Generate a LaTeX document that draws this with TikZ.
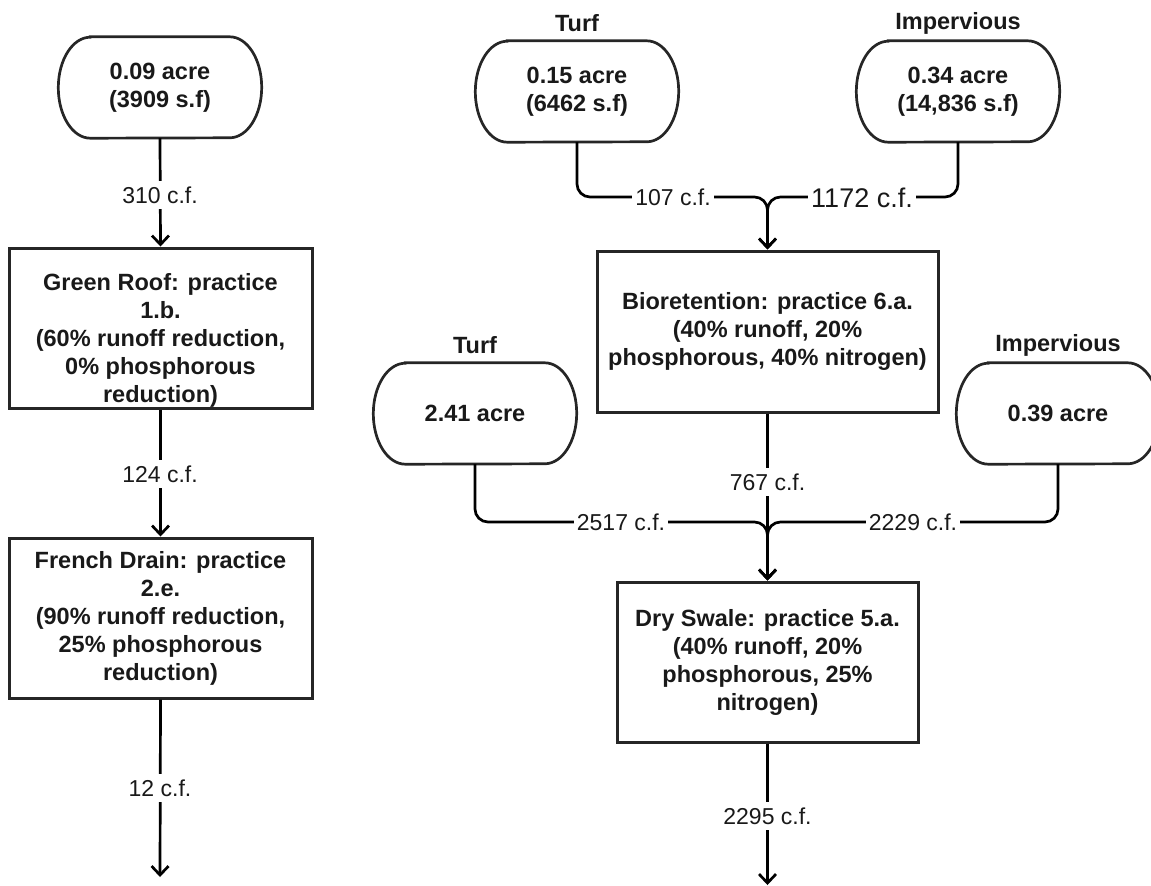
\documentclass[tikz,border=0pt]{standalone}
\usepackage{fontspec}
\setmainfont{Liberation Sans}
\usetikzlibrary{arrows.meta}
\newcommand\drawterm[1]{%
  \draw[termline] ([xshift=32pt]#1.north west) -- ([xshift=-32pt]#1.north east)
    arc[start angle=90, end angle=-90, x radius=32pt, y radius=50.5pt]
    -- ([xshift=32pt]#1.south west)
    arc[start angle=270, end angle=90, x radius=32pt, y radius=50.5pt] -- cycle;}
\begin{document}
\begin{tikzpicture}[x=1pt,y=-1pt,
  every node/.style={font=\fontsize{23.5}{28}\selectfont\bfseries, text=black!90},
  term/.style={minimum width=203pt, minimum height=101pt, align=center, inner sep=0pt},
  termline/.style={draw=black!85, line width=2.7pt},
  procbox/.style={draw=black!85, line width=3pt, inner sep=0pt},
  boxtext/.style={align=center, inner sep=0pt},
  elabel/.style={font=\fontsize{23}{28}\selectfont, fill=white, inner xsep=3pt, inner ysep=6pt},
  biglabel/.style={font=\fontsize{27}{30}\selectfont, fill=white, inner xsep=3pt, inner ysep=4pt},
  conn/.style={line width=2.7pt, rounded corners=13pt, -{Straight Barb[length=9pt,width=17pt]}}
]
\path[use as bounding box, clip] (0,0) rectangle (1151,886);

% ---------- left column ----------
\node[term] (t0) at (160,87.5) {0.09 acre\\(3909 s.f)};
\drawterm{t0}
\node[procbox, minimum width=303pt, minimum height=160pt] (gr) at (160.5,328) {};
\node[boxtext] (grt) at (160.5,340) {Green Roof: practice\\1.b.\\(60\% runoff reduction,\\0\% phosphorous\\reduction)};
\node[procbox, minimum width=303pt, minimum height=160pt, align=center] (fd) at (160.5,618) {French Drain: practice\\2.e.\\(90\% runoff reduction,\\25\% phosphorous\\reduction)};
\coordinate (e0) at (160,877);

\draw[conn] (t0.south) -- (gr.north);
\draw[conn] (gr.south) -- (fd.north);
\draw[conn] (fd.south) -- (e0);
\node[elabel] (l310) at (160,195) {310 c.f.};
\node[elabel] (l124) at (160,474) {124 c.f.};
\node[elabel] (l12) at (160,788) {12 c.f.};

% ---------- right column ----------
\node (lt1) at (577,23) {Turf};
\node[term] (t1) at (577,91.5) {0.15 acre\\(6462 s.f)};
\drawterm{t1}
\node (li1) at (958,23) {Impervious};
\node[term] (i1) at (958,91.5) {0.34 acre\\(14,836 s.f)};
\drawterm{i1}

\node[procbox, minimum width=341pt, minimum height=161pt, align=center] (bio) at (767.5,331.5) {Bioretention: practice 6.a.\\(40\% runoff, 20\%\\phosphorous, 40\% nitrogen)};

\node (lt2) at (475,345) {Turf};
\node[term] (t2) at (475,413.5) {2.41 acre};
\drawterm{t2}
\node (li2) at (1058,345) {Impervious};
\node[term] (i2) at (1058,413.5) {0.39 acre};
\drawterm{i2}

\node[procbox, minimum width=301pt, minimum height=160pt, align=center] (ds) at (767.5,662) {Dry Swale: practice 5.a.\\(40\% runoff, 20\%\\phosphorous, 25\%\\nitrogen)};
\coordinate (e1) at (767.5,885);

\coordinate (m1) at (767.5,197);
\coordinate (m2) at (767.5,522);

\draw[conn] (t1.south) |- (m1) -- (bio.north);
\draw[conn] (i1.south) |- (m1) -- (bio.north);
\draw[conn] (bio.south) -- (ds.north);
\draw[conn] (t2.south) |- (m2) -- (ds.north);
\draw[conn] (i2.south) |- (m2) -- (ds.north);
\draw[conn] (ds.south) -- (e1);

\node[elabel] (l107) at (673,197) {107 c.f.};
\node[biglabel] (l1172) at (862,198) {1172 c.f.};
\node[elabel] (l767) at (767.5,482) {767 c.f.};
\node[elabel] (l2517) at (621,522) {2517 c.f.};
\node[elabel] (l2229) at (913,522) {2229 c.f.};
\node[elabel] (l2295) at (767.5,816) {2295 c.f.};
\end{tikzpicture}
\end{document}
